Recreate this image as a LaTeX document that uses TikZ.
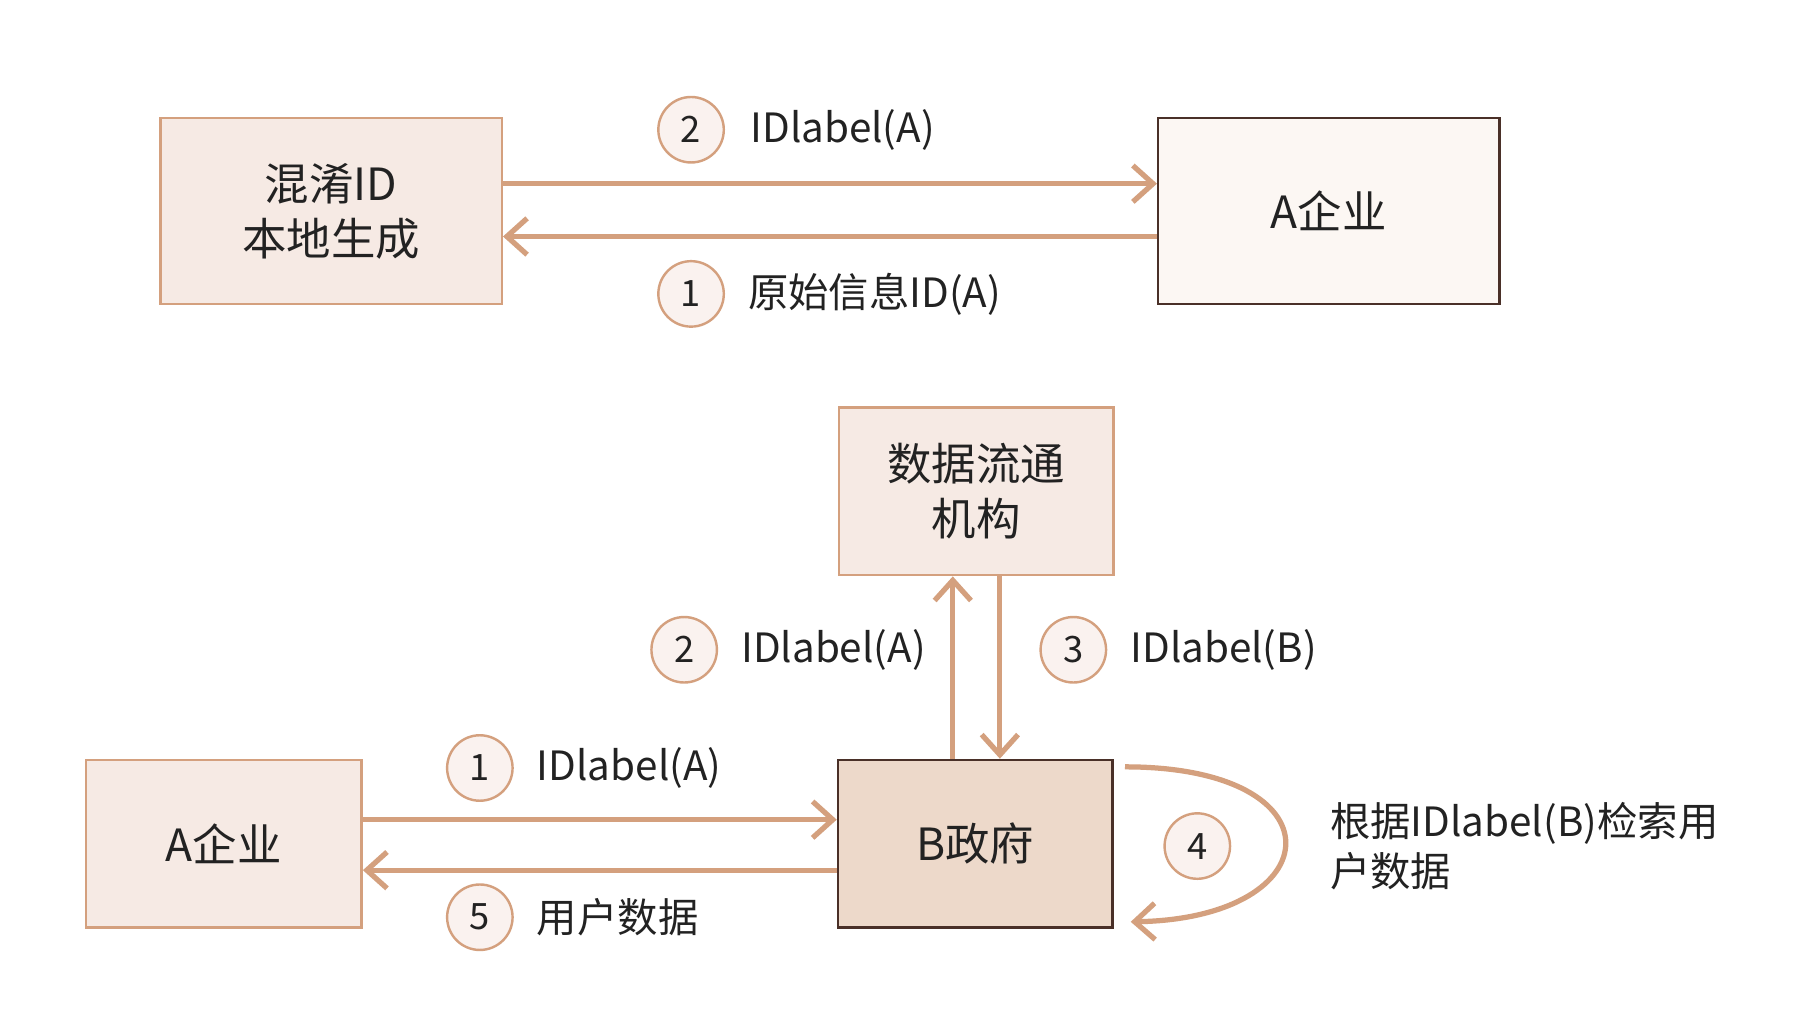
\documentclass[tikz,border=0pt]{standalone}
\usepackage{fontspec}
\setmainfont{Noto Sans CJK SC}
\usetikzlibrary{arrows.meta}
\definecolor{tan}{HTML}{D4A07E}
\definecolor{pinkfill}{HTML}{F6EAE4}
\definecolor{lightfill}{HTML}{FCF7F3}
\definecolor{gfill}{HTML}{EDD9CA}
\definecolor{dk}{HTML}{4A3028}
\definecolor{txt}{HTML}{222222}
\tikzset{
  x=0.01cm,y=-0.01cm,
  box/.style={draw=tan,line width=0.6pt,fill=pinkfill,align=center,font=\fontsize{11}{13.5}\selectfont,text=txt,inner sep=0},
  dbox/.style={box,draw=dk},
  conn/.style={draw=tan,line width=1.3pt,-{Straight Barb[length=5pt,width=9pt]}},
  num/.style={circle,draw=tan,line width=0.6pt,fill=pinkfill!60,minimum size=0.57cm,inner sep=0,font=\fontsize{9}{10}\selectfont,text=txt},
  lab/.style={anchor=west,inner sep=0,font=\fontsize{10}{12}\selectfont,text=txt,align=left}
}
\begin{document}
\begin{tikzpicture}
\useasboundingbox[fill=white] (0,0) rectangle (1568,895.5);
% top
\node[box,minimum width=2.97cm,minimum height=1.62cm] (hx) at (288.5,184) {混淆ID\\本地生成};
\node[dbox,fill=lightfill,minimum width=2.97cm,minimum height=1.62cm] (aa) at (1157.5,184) {A企业};
\draw[conn] (hx.east |- 0,160) -- (aa.west |- 0,160);
\draw[conn] (aa.west |- 0,206) -- (hx.east |- 0,206);
\node[num] (n2a) at (602,113) {2};
\node[lab] (l2a) at (653,113) {IDlabel(A)};
\node[num] (n1a) at (602,256) {1};
\node[lab] (l1a) at (651,256) {原始信息ID(A)};
% bottom
\node[box,minimum width=2.39cm,minimum height=1.46cm] (sj) at (850.5,428) {数据流通\\机构};
\node[box,minimum width=2.40cm,minimum height=1.46cm] (ab) at (195,735) {A企业};
\node[dbox,fill=gfill,minimum width=2.39cm,minimum height=1.46cm] (bz) at (849.5,735) {B政府};
\draw[conn] (bz.north -| 830,0) -- (sj.south -| 830,0);
\draw[conn] (sj.south -| 871,0) -- (bz.north -| 871,0);
\node[num] (n2b) at (596,566) {2};
\node[lab] (l2b) at (645,566) {IDlabel(A)};
\node[num] (n3b) at (935,566) {3};
\node[lab] (l3b) at (984,566) {IDlabel(B)};
\draw[conn] (ab.east |- 0,714) -- (bz.west |- 0,714);
\draw[conn] (bz.west |- 0,758) -- (ab.east |- 0,758);
\node[num] (n1b) at (418,669) {1};
\node[lab] (l1b) at (467,669) {IDlabel(A)};
\node[num] (n5b) at (418,799) {5};
\node[lab] (l5b) at (467,799) {用户数据};
\coordinate (ls) at (980,668);
\coordinate (le) at (985,803);
\draw[conn] (ls) .. controls (1170,668) and (1160,800) .. (le);
\node[num] (n4b) at (1043,737) {4};
\node[lab,font=\fontsize{10}{12.5}\selectfont] (l4b) at (1158,737) {根据IDlabel(B)检索用\\户数据};
\end{tikzpicture}
\end{document}
